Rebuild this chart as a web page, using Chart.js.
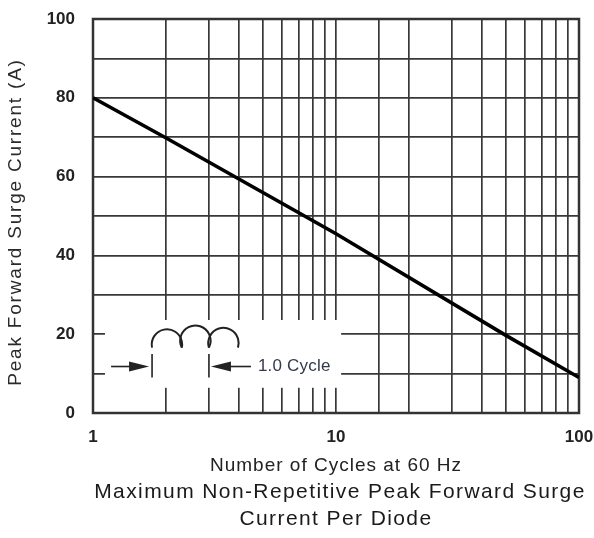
<!DOCTYPE html>
<html><head><meta charset="utf-8">
<script src="https://cdn.jsdelivr.net/npm/chart.js@4/dist/chart.umd.min.js"></script>
<style>html,body{margin:0;padding:0;background:#fff}#wrap{width:594px;height:538px}</style>
</head><body><div id="wrap"><canvas id="c" width="594" height="538"></canvas></div>
<script>
// ---- data ----
const cycles = [1, 2, 10, 50, 100];
const surgeCurrent = [80, 69.8, 45.5, 19.7, 9];
const yTickLabels = [0, 20, 40, 60, 80, 100];
const xTickLabels = [1, 10, 100];
const xTitle = 'Number of Cycles at 60 Hz';
const yTitle = 'Peak Forward Surge Current (A)';
const captionLines = ['Maximum Non-Repetitive Peak Forward Surge', 'Current Per Diode'];
const insetLabel = '1.0 Cycle';
// inset geometry in data units
const insetBoxX = [1.12, 10.5];
const insetBoxY = [6.4, 23.6];
const humpX = [1.75, 2.32, 3.0, 3.95];
const cycleMarkX = [1.75, 3.0];

const FONT = "'Liberation Sans', Arial, sans-serif";
const GRID = '#383838';

function noPad(s) { s.paddingLeft = 0; s.paddingRight = 0; s.paddingTop = 0; s.paddingBottom = 0; }

const insetPlugin = {
  id: 'inset',
  beforeDraw(chart) {
    Object.values(chart.scales).forEach(s => {
      if (s._wrapped) return;
      const orig = s.drawTitle;
      const isX = s.axis === 'x';
      const ls = isX ? '1px' : '1.8px';
      s.drawTitle = function (...a) {
        this.ctx.save();
        this.ctx.letterSpacing = ls;
        if (!isX) this.ctx.translate(0, 6);
        orig.apply(this, a);
        this.ctx.restore();
      };
      s._wrapped = true;
    });
  },
  beforeDatasetsDraw(chart) {
    const {ctx, chartArea: ca, scales: {x, y}} = chart;
    ctx.save();
    // white inset box hiding the grid
    ctx.fillStyle = '#fff';
    const bx0 = x.getPixelForValue(insetBoxX[0]), bx1 = x.getPixelForValue(insetBoxX[1]);
    const by0 = y.getPixelForValue(insetBoxY[1]), by1 = y.getPixelForValue(insetBoxY[0]);
    ctx.fillRect(bx0, by0, bx1 - bx0, by1 - by0);
    // frame
    ctx.strokeStyle = '#333';
    ctx.lineWidth = 2.5;
    ctx.strokeRect(ca.left, ca.top, ca.right - ca.left, ca.bottom - ca.top);
    // humps
    ctx.strokeStyle = '#222';
    ctx.lineWidth = 2;
    const baseY = y.getPixelForValue(16.6);
    for (let i = 0; i < humpX.length - 1; i++) {
      const a = x.getPixelForValue(humpX[i]), b = x.getPixelForValue(humpX[i + 1]);
      const cx = (a + b) / 2, half = (b - a) / 2;
      const r = 15.2;
      const dy = Math.sqrt(Math.max(r * r - half * half, 0));
      const cy = baseY - dy;
      const ang = Math.asin(dy / r);
      ctx.beginPath();
      ctx.arc(cx, cy, r, Math.PI - ang, ang, false);
      ctx.stroke();
    }
    // cycle marks
    const ay = y.getPixelForValue(11.8);
    const tTop = y.getPixelForValue(15), tBot = y.getPixelForValue(9);
    ctx.lineWidth = 1.6;
    cycleMarkX.forEach(v => {
      const px = x.getPixelForValue(v);
      ctx.beginPath(); ctx.moveTo(px, tTop); ctx.lineTo(px, tBot); ctx.stroke();
    });
    const p0 = x.getPixelForValue(cycleMarkX[0]), p1 = x.getPixelForValue(cycleMarkX[1]);
    ctx.fillStyle = '#222';
    // left arrow pointing right
    ctx.beginPath(); ctx.moveTo(p0 - 41, ay); ctx.lineTo(p0 - 12, ay); ctx.stroke();
    ctx.beginPath(); ctx.moveTo(p0 - 3, ay); ctx.lineTo(p0 - 23, ay - 5); ctx.lineTo(p0 - 23, ay + 5); ctx.closePath(); ctx.fill();
    // right arrow pointing left
    ctx.beginPath(); ctx.moveTo(p1 + 12, ay); ctx.lineTo(p1 + 42, ay); ctx.stroke();
    ctx.beginPath(); ctx.moveTo(p1 + 2, ay); ctx.lineTo(p1 + 22, ay - 5); ctx.lineTo(p1 + 22, ay + 5); ctx.closePath(); ctx.fill();
    // label
    ctx.fillStyle = '#33394a';
    ctx.font = `17px ${FONT}`;
    ctx.letterSpacing = '0.2px';
    ctx.textBaseline = 'middle';
    ctx.textAlign = 'left';
    ctx.fillText(insetLabel, p1 + 49, ay);
    ctx.restore();
  },
  afterDraw(chart) {
    const {ctx, chartArea: ca} = chart;
    ctx.save();
    ctx.fillStyle = '#1a1a1a';
    ctx.font = `21px ${FONT}`;
    ctx.letterSpacing = '1.4px';
    ctx.textAlign = 'center';
    ctx.textBaseline = 'middle';
    const cx = (ca.left + ca.right) / 2;
    ctx.fillText(captionLines[0], cx + 4, 492);
    ctx.fillText(captionLines[1], cx, 519);
    ctx.restore();
  }
};

new Chart(document.getElementById('c'), {
  type: 'scatter',
  data: {
    datasets: [{
      data: cycles.map((c, i) => ({x: c, y: surgeCurrent[i]})),
      showLine: true,
      borderColor: '#000',
      borderWidth: 3.6,
      pointRadius: 0,
      tension: 0
    }]
  },
  options: {
    responsive: false,
    devicePixelRatio: 1,
    animation: false,
    layout: {padding: {top: 19, right: 15, left: 0, bottom: 0}},
    plugins: {legend: {display: false}, tooltip: {enabled: false}},
    scales: {
      x: {
        type: 'logarithmic',
        min: 1, max: 100,
        afterFit(s) { s.height = 125; noPad(s); },
        border: {display: false},
        grid: {color: GRID, lineWidth: 1.7, drawTicks: false},
        ticks: {
          autoSkip: false, maxRotation: 0, padding: 14,
          color: '#222', font: {family: FONT, size: 17, weight: 'bold'},
          callback: v => xTickLabels.includes(v) ? String(v) : ''
        },
        title: {display: true, text: xTitle, color: '#222', font: {family: FONT, size: 19}, padding: {top: 0, bottom: 61}}
      },
      y: {
        min: 0, max: 100,
        afterFit(s) { s.width = 93; noPad(s); },
        border: {display: false},
        grid: {color: GRID, lineWidth: 1.7, drawTicks: false},
        ticks: {
          stepSize: 10, autoSkip: false, padding: 18,
          color: '#222', font: {family: FONT, size: 17, weight: 'bold'},
          callback: v => yTickLabels.includes(v) ? String(v) : ''
        },
        title: {display: true, text: yTitle, color: '#2a2a2a', font: {family: FONT, size: 19}, padding: {top: 4, bottom: 0}}
      }
    }
  },
  plugins: [insetPlugin]
});
</script></body></html>
